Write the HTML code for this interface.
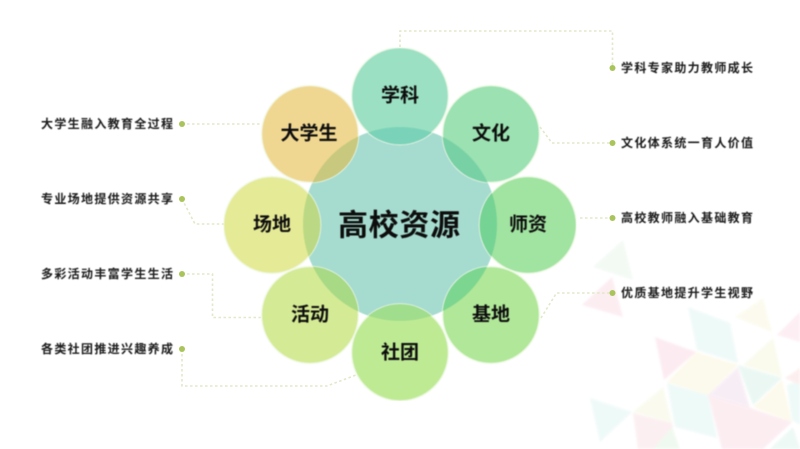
<!DOCTYPE html>
<html lang="zh">
<head>
<meta charset="utf-8">
<title>高校资源</title>
<style>
html,body{margin:0;padding:0;width:800px;height:449px;overflow:hidden;background:#fff}
svg{display:block}
text{font-family:"Liberation Sans","Noto Sans CJK SC",sans-serif;font-weight:700;fill:#0c0c0c;text-anchor:middle;dominant-baseline:central}
.lab{font-size:12px;fill:#1a1a1a;text-anchor:start}
.n{font-size:19px}
.con{fill:none;stroke:#e2e8c8;stroke-width:1.6;stroke-dasharray:2.5 2.5}
.dot{fill:#a9c45a}
.c{stroke:#f2faea;stroke-opacity:.85;stroke-width:1.5}
</style>
</head>
<body>
<svg width="800" height="449" viewBox="0 0 800 449" xmlns="http://www.w3.org/2000/svg">
<defs>
<filter id="b" x="-5%" y="-20%" width="110%" height="140%"><feGaussianBlur stdDeviation="0.5"/></filter>
<filter id="s"><feGaussianBlur stdDeviation="1"/></filter>
<filter id="a" x="0" y="0" width="100%" height="100%"><feGaussianBlur stdDeviation="0.4"/></filter>
<clipPath id="cc"><circle cx="400" cy="224" r="97"/></clipPath>
</defs>

<g filter="url(#s)" opacity="0.7">
<polygon points="623,240 593,267 633,280" fill="#eff8f0"/>
<polygon points="612,277 582,305 623,317" fill="#fbe6ec"/>
<polygon points="688,307 730,323 738,363 697,350" fill="#e8f8f6"/>
<polygon points="763,298 735,317 772,332" fill="#fbf9e8"/>
<polygon points="800,312 777,335 800,342" fill="#fce8ee"/>
<polygon points="655,337 696,352 664,380" fill="#fbe4ec"/>
<polygon points="696,352 738,365 708,395 667,382" fill="#fcf8e4"/>
<polygon points="773,338 743,365 782,377" fill="#f8f9e6"/>
<polygon points="738,365 782,378 753,405" fill="#e2f5ee"/>
<polygon points="738,367 708,395 750,408" fill="#f5e8f2"/>
<polygon points="667,383 708,395 717,438 675,427" fill="#e8f8f6"/>
<polygon points="663,387 633,412 672,423" fill="#f8f9e8"/>
<polygon points="590,398 632,412 600,442" fill="#e8f8f6"/>
<polygon points="633,413 672,423 677,449 638,449" fill="#fbe9ec"/>
<polygon points="708,395 750,408 792,422 763,449 722,449" fill="#fbe6ec"/>
<polygon points="782,380 753,407 792,422" fill="#fcf8e4"/>
<polygon points="800,380 787,385 792,420 800,425" fill="#e8f8f4"/>
<polygon points="800,368 785,378 800,385" fill="#fce8e8"/>
<polygon points="672,427 653,449 680,449" fill="#eaf7ea"/>
<polygon points="793,427 770,449 800,449" fill="#e6f7f2"/>
</g>

<g>
<path class="con" d="M400 47V31H612.5V68"/>
<path class="con" d="M540 127L552 143H612"/>
<path class="con" d="M580 218H612"/>
<path class="con" d="M541 318L556.500 293H612"/>
<path class="con" d="M182 124H261"/>
<path class="con" d="M182 199L195 224H224"/>
<path class="con" d="M182 274H212.500V317.500H262"/>
<path class="con" d="M182 349V386H327L356 375"/>
<circle class="dot" cx="612.500" cy="68" r="3"/>
<circle class="dot" cx="612.500" cy="143" r="3"/>
<circle class="dot" cx="612.500" cy="218" r="3"/>
<circle class="dot" cx="612.500" cy="293" r="3"/>
<circle class="dot" cx="182" cy="124" r="3"/>
<circle class="dot" cx="182" cy="199" r="3"/>
<circle class="dot" cx="182" cy="274" r="3"/>
<circle class="dot" cx="182" cy="349" r="3"/>
</g>

<g filter="url(#a)">
<circle cx="400" cy="224" r="97" fill="#a6dccf"/>
<circle class="c" cx="400" cy="96" r="48.500" fill="#9be0c3"/>
<circle class="c" cx="310" cy="134" r="48.500" fill="#f0d791"/>
<circle class="c" cx="491" cy="134" r="48.500" fill="#9be1b1"/>
<circle class="c" cx="272" cy="225" r="48.500" fill="#e5ea96"/>
<circle class="c" cx="528" cy="225" r="48.500" fill="#a1e3a0"/>
<circle class="c" cx="310" cy="315" r="48.500" fill="#d4ea94"/>
<circle class="c" cx="491" cy="315" r="48.500" fill="#b0e798"/>
<circle class="c" cx="400" cy="352.500" r="48.500" fill="#bfea94"/>
<g clip-path="url(#cc)">
<circle cx="400" cy="96" r="48.500" fill="#7ad3b8"/>
<circle cx="310" cy="134" r="48.500" fill="#c8c97e"/>
<circle cx="491" cy="134" r="48.500" fill="#78d1a4"/>
<circle cx="272" cy="225" r="48.500" fill="#bbd984"/>
<circle cx="528" cy="225" r="48.500" fill="#74d394"/>
<circle cx="310" cy="315" r="48.500" fill="#a8d985"/>
<circle cx="491" cy="315" r="48.500" fill="#7cd690"/>
<circle cx="400" cy="352.500" r="48.500" fill="#a0dd8c"/>
</g>
</g>

<g filter="url(#b)">
<text x="399" y="226" font-size="30" textLength="122" lengthAdjust="spacing">高校资源</text>
<text class="n" x="400" y="96">学科</text>
<text class="n" x="309" y="134">大学生</text>
<text class="n" x="491" y="134">文化</text>
<text class="n" x="272" y="225">场地</text>
<text class="n" x="528" y="225">师资</text>
<text class="n" x="310" y="315">活动</text>
<text class="n" x="491" y="315">基地</text>
<text class="n" x="400" y="353">社团</text>

<text class="lab" x="41" y="124" textLength="132">大学生融入教育全过程</text>
<text class="lab" x="41" y="199" textLength="132">专业场地提供资源共享</text>
<text class="lab" x="41" y="274" textLength="132">多彩活动丰富学生生活</text>
<text class="lab" x="41" y="349" textLength="132">各类社团推进兴趣养成</text>
<text class="lab" x="621" y="68" textLength="132">学科专家助力教师成长</text>
<text class="lab" x="621" y="143" textLength="132">文化体系统一育人价值</text>
<text class="lab" x="621" y="218" textLength="132">高校教师融入基础教育</text>
<text class="lab" x="621" y="293" textLength="132">优质基地提升学生视野</text>
</g>
</svg>
</body>
</html>
